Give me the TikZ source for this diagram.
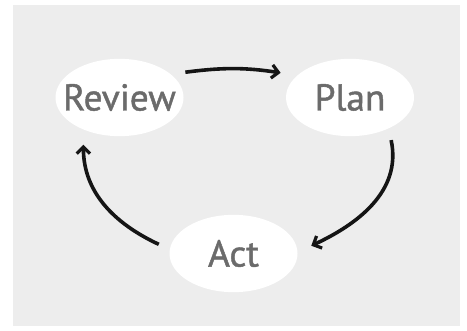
\documentclass[tikz,border=0pt]{standalone}
\usepackage{xcolor}
\usepackage{fontspec}
\setmainfont{PT Sans}
\newfontfamily\stagefont[FakeBold=1.2]{PT Sans}
\usepackage{tikz}
\usetikzlibrary{shapes.geometric, arrows.meta, positioning}

\definecolor{bggray}{HTML}{EDEDED}
\definecolor{textgray}{HTML}{6B6B6B}
\definecolor{arrowblack}{HTML}{151515}

\begin{document}
\begin{tikzpicture}[x=0.75pt, y=0.75pt, arrow/.style = {line width=2.7pt, draw=arrowblack, -{Straight Barb[length=5pt,width=10pt,line width=2.4pt]}, shorten >=2pt}]
		\tikzset{stage/.style={ellipse, fill=white, inner sep=0pt, outer sep=9pt, minimum width=96pt, minimum height=58pt, text=textgray, font=\stagefont\fontsize{28}{30}\selectfont}}
		\useasboundingbox (0,0) rectangle (467,331);
		\fill[bggray] (13,5) rectangle (460,326);

		\node[stage] (review) at (119.5,233.5) {\makebox[0pt]{Review}};
		\node[stage] (plan) at (350,233.5) {\makebox[0pt]{Plan}};
		\node[stage] (act) at (233.5,77.5) {\makebox[0pt]{Act}};

		\draw [arrow] (review.21) to[bend left=8] (plan.160);
		\draw [arrow] (plan.-46) to[out=-78, in=25] (act.5);
		\draw [arrow] (act.173) to[out=155, in=-90] (review.231);

	\end{tikzpicture}
\end{document}
